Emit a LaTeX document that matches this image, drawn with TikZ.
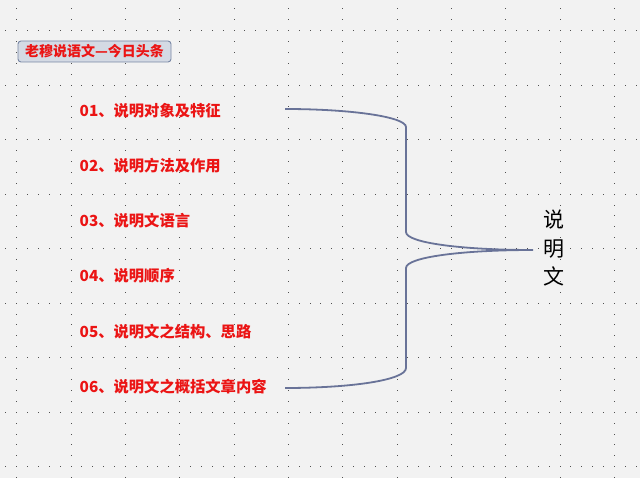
\documentclass[tikz,border=0pt]{standalone}
\usepackage{fontspec}
\newfontfamily\cjk{Noto Sans CJK SC}
\definecolor{bgcol}{RGB}{242,242,242}
\definecolor{dotgray}{RGB}{80,80,80}
\definecolor{itemred}{RGB}{235,20,20}
\definecolor{titlefill}{RGB}{212,218,228}
\definecolor{titleborder}{RGB}{120,135,165}
\definecolor{bracecol}{RGB}{105,115,152}
\begin{document}
\begin{tikzpicture}[x=1pt,y=-1pt,
  item/.style={anchor=west,inner sep=0pt,text=itemred,font=\cjk\bfseries\fontsize{15.3}{18}\selectfont},
  titlebox/.style={draw=titleborder,fill=titlefill,rounded corners=3pt,line width=0.9pt,
    minimum width=153pt,minimum height=21pt,inner sep=0pt,text=itemred,
    font=\cjk\bfseries\fontsize{14}{16}\selectfont},
  lbl/.style={align=center,inner sep=0pt,text=black,font=\cjk\fontsize{21}{28.5}\selectfont},
  bracepath/.style={draw=bracecol,line width=1.8pt}]
\fill[bgcol] (0,0) rectangle (640,478);
\useasboundingbox (0,0) rectangle (640,478);
% dotted grid
\foreach \j in {0,...,8}{
  \foreach \i in {-1,...,57}{
    \fill[dotgray] ({16.7+10.866*\i-0.5},{30.7+54.5*\j-0.5}) rectangle ++(1,1);
  }
}
\foreach \k in {0,...,11}{
  \foreach \i in {-2,...,41}{
    \fill[dotgray] ({16.7+54.33*\k-0.5},{30.7+10.9*\i-0.5}) rectangle ++(1,1);
  }
}
% title
\node[titlebox] (title) at (94.5,51.5) {老穆说语文—今日头条};
% items
\node[item] (i1) at (79.5,111) {01、说明对象及特征};
\node[item] (i2) at (79.5,165.5) {02、说明方法及作用};
\node[item] (i3) at (79.5,221) {03、说明文语言};
\node[item] (i4) at (79.5,276) {04、说明顺序};
\node[item] (i5) at (79.5,331.5) {05、说明文之结构、思路};
\node[item] (i6) at (79.5,387) {06、说明文之概括文章内容};
% label
\node[lbl] (lbl) at (554,248.5) {说\\明\\文};
% brace
\coordinate (bt) at (285,109);
\coordinate (bb) at (285,388);
\coordinate (tip) at (533,250);
\draw[bracepath] (bt) .. controls (352,109) and (406,117) .. (406,127) -- (406,232)
  .. controls (406,243) and (463,250) .. (tip)
  .. controls (463,250) and (406,257) .. (406,268) -- (406,368)
  .. controls (406,380) and (352,388) .. (bb);
\end{tikzpicture}
\end{document}
